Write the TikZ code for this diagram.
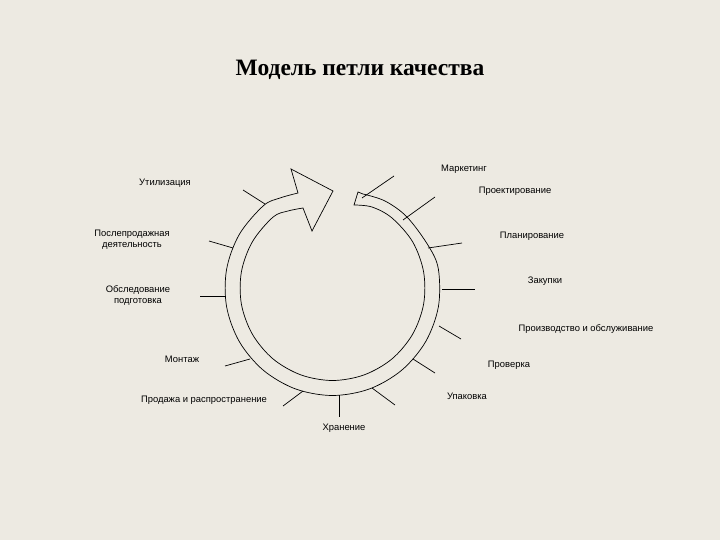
\documentclass[tikz,border=0pt]{standalone}
\usepackage{fontspec}
\setmainfont{Liberation Sans}
\newfontfamily\titlefont{Liberation Serif}
\definecolor{bg}{RGB}{237,234,226}
\begin{document}
\begin{tikzpicture}[x=1pt,y=-1pt,
  lbl/.style={font=\fontsize{9.4}{11}\selectfont, inner sep=0pt, align=center},
  tick/.style={line width=0.7pt},
  ring/.style={line width=0.7pt, line join=miter}]
\fill[bg] (0,0) rectangle (720,540);
\useasboundingbox (0,0) rectangle (720,540);
\node[font=\titlefont\bfseries\fontsize{23.5}{28}\selectfont, inner sep=0pt] (title) at (360,70) {Модель петли качества};

% ring with arrowhead
\draw[ring] plot[smooth, tension=0.55] coordinates {
  (298,193) (280,198) (263.4,205.7) (239.4,234.25) (226.6,269.3) (226.6,306.7)
  (239.4,341.75) (263.4,370.3) (295.7,389.0) (332.5,395.5) (369.3,389.0)
  (401.6,370.3) (425.6,341.75) (438.4,306.7) (438.4,269.3) (428.5,246) (407,217) (385,201) (363,194)}
  -- (358,192) -- (354,205)
  -- plot[smooth, tension=0.55] coordinates {
  (354,205) (372,207) (392,218) (412.6,241.75) (423.6,271.9) (423.6,304.1) (412.6,334.25) (392.0,358.9)
  (364.1,374.9) (332.5,380.5) (300.9,374.9) (273.0,358.9) (252.4,334.25)
  (241.4,304.1) (241.4,271.9) (252.4,241.75) (273.0,217.1) (288,211) (303,208)}
  -- (312,231) -- (333,191) -- (291,169) -- cycle;

% tick coordinates
\coordinate (a1) at (362,198); \coordinate (b1) at (394,176);
\coordinate (a2) at (403,220); \coordinate (b2) at (435,197);
\coordinate (a3) at (428,248); \coordinate (b3) at (462,243);
\coordinate (a4) at (442,289); \coordinate (b4) at (475,289);
\coordinate (a5) at (439,326); \coordinate (b5) at (461,339);
\coordinate (a6) at (413,359); \coordinate (b6) at (435,373);
\coordinate (a7) at (372,388); \coordinate (b7) at (395,405);
\coordinate (a8) at (339,395); \coordinate (b8) at (339,417);
\coordinate (a9) at (303,391); \coordinate (b9) at (283,406);
\coordinate (a10) at (250,359); \coordinate (b10) at (225,366);
\coordinate (a11) at (225,296); \coordinate (b11) at (200,296);
\coordinate (a12) at (233,248); \coordinate (b12) at (209,241);
\coordinate (a13) at (265,204); \coordinate (b13) at (243,190);
\foreach \i in {1,...,13} {\draw[tick] (a\i) -- (b\i);}

% labels
\node[lbl] (l1) at (464,169) {Маркетинг};
\node[lbl] (l2) at (515,191) {Проектирование};
\node[lbl] (l3) at (532,236) {Планирование};
\node[lbl] (l4) at (545,281) {Закупки};
\node[lbl] (l5) at (586,329) {Производство и обслуживание};
\node[lbl] (l6) at (509,365) {Проверка};
\node[lbl] (l7) at (467,396) {Упаковка};
\node[lbl] (l8) at (344,428) {Хранение};
\node[lbl] (l9) at (204,400) {Продажа и распространение};
\node[lbl] (l10) at (182,359) {Монтаж};
\node[lbl] (l11) at (138,295) {Обследование\\подготовка};
\node[lbl] (l12) at (132,240) {Послепродажная\\деятельность};
\node[lbl] (l13) at (165,183) {Утилизация};
\end{tikzpicture}
\end{document}
